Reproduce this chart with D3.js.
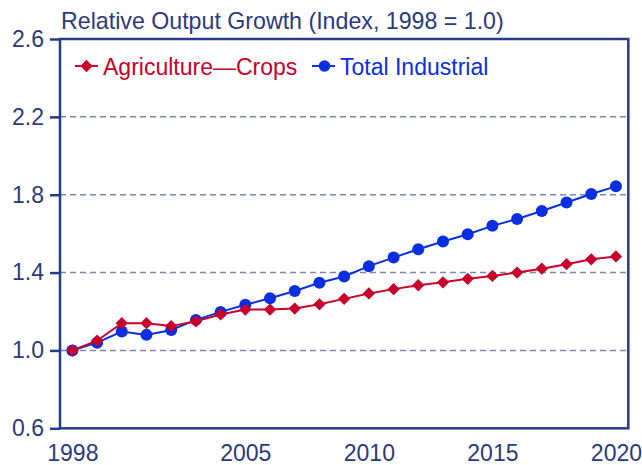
<!DOCTYPE html>
<html>
<head>
<meta charset="utf-8">
<script src="https://cdn.jsdelivr.net/npm/d3@7"></script>
<style>
  html, body { margin: 0; padding: 0; background: #ffffff; }
  svg { display: block; font-family: "Liberation Sans", Arial, sans-serif; }
</style>
</head>
<body>
<svg id="chart" width="642" height="465"></svg>
<script>
const years = d3.range(1998, 2021);
const crops = [1.00, 1.05, 1.14, 1.14, 1.125, 1.15, 1.185, 1.21, 1.21, 1.215, 1.237, 1.265, 1.293, 1.315, 1.335, 1.35, 1.368, 1.383, 1.40, 1.42, 1.443, 1.468, 1.483];
const industrial = [1.00, 1.04, 1.097, 1.08, 1.105, 1.157, 1.198, 1.235, 1.268, 1.305, 1.348, 1.38, 1.433, 1.477, 1.52, 1.56, 1.597, 1.64, 1.675, 1.716, 1.76, 1.804, 1.843];
const yTicks = [0.6, 1.0, 1.4, 1.8, 2.2, 2.6];
const xTicks = [1998, 2005, 2010, 2015, 2020];
const seriesNames = ["Agriculture\u2014Crops", "Total Industrial"];
const title = "Relative Output Growth (Index, 1998 = 1.0)";

const navy = "#243b8a";
const textNavy = "#2a3a80";
const red = "#c8002c";
const blue = "#0a2fe0";
const gridCol = "#7d88ad";

const mLeft = 60, mRight = 628.3, mTop = 39, mBottom = 428.3;
const svg = d3.select("#chart");

const x = d3.scaleLinear().domain([1997.5, 2020.5]).range([mLeft, mRight]);
const y = d3.scaleLinear().domain([0.6, 2.6]).range([mBottom, mTop]);

// gridlines
svg.append("g").selectAll("line")
  .data(yTicks.filter(v => v > 0.6 && v < 2.6))
  .join("line")
  .attr("x1", mLeft).attr("x2", mRight)
  .attr("y1", d => y(d)).attr("y2", d => y(d))
  .attr("stroke", gridCol).attr("stroke-width", 1.5)
  .attr("stroke-dasharray", "6,4");

// y axis
const yAxis = svg.append("g").attr("transform", `translate(${mLeft},0)`)
  .call(d3.axisLeft(y).tickValues(yTicks).tickFormat(d3.format(".1f")).tickSize(10).tickSizeOuter(0).tickPadding(6));
yAxis.select(".domain").remove();
yAxis.selectAll(".tick line").attr("stroke", navy).attr("stroke-width", 2.5);
yAxis.selectAll(".tick text").attr("fill", textNavy).style("font-size", "23px")
  .style("font-family", "'Liberation Sans', Arial, sans-serif");

// x axis
const xAxis = svg.append("g").attr("transform", `translate(0,${mBottom})`)
  .call(d3.axisBottom(x).tickValues(xTicks).tickFormat(d3.format("d")).tickSize(0).tickPadding(16.5));
xAxis.select(".domain").remove();
xAxis.selectAll(".tick text").attr("fill", textNavy).style("font-size", "23px")
  .style("font-family", "'Liberation Sans', Arial, sans-serif");

// frame
svg.append("rect")
  .attr("x", mLeft).attr("y", mTop)
  .attr("width", mRight - mLeft).attr("height", mBottom - mTop)
  .attr("fill", "none").attr("stroke", navy).attr("stroke-width", 2.5);

// title
svg.append("text").attr("x", 61).attr("y", 28.5)
  .attr("fill", textNavy).style("font-size", "23.2px").text(title);

const line = d3.line().x((d, i) => x(years[i])).y(d => y(d));
const diamond = d3.symbol().type(d3.symbolSquare).size(76);

// industrial series
svg.append("path").datum(industrial)
  .attr("d", line).attr("fill", "none").attr("stroke", blue).attr("stroke-width", 2);
svg.append("g").selectAll("circle").data(industrial).join("circle")
  .attr("cx", (d, i) => x(years[i])).attr("cy", d => y(d)).attr("r", 6)
  .attr("fill", blue);

// crops series
svg.append("path").datum(crops)
  .attr("d", line).attr("fill", "none").attr("stroke", red).attr("stroke-width", 2);
svg.append("g").selectAll("path").data(crops).join("path")
  .attr("d", diamond)
  .attr("transform", (d, i) => `translate(${x(years[i])},${y(d)}) rotate(45)`)
  .attr("fill", red);

// legend
const legY = 66;
const leg = [
  { name: seriesNames[0], color: red, x0: 75, shape: "diamond" },
  { name: seriesNames[1], color: blue, x0: 312, shape: "circle" }
];
leg.forEach(l => {
  const g = svg.append("g");
  g.append("line").attr("x1", l.x0).attr("x2", l.x0 + 23)
    .attr("y1", legY).attr("y2", legY).attr("stroke", l.color).attr("stroke-width", 2);
  if (l.shape === "diamond") {
    g.append("path").attr("d", diamond)
      .attr("transform", `translate(${l.x0 + 11.5},${legY}) rotate(45)`).attr("fill", l.color);
  } else {
    g.append("circle").attr("cx", l.x0 + 12.5).attr("cy", legY).attr("r", 5.8).attr("fill", l.color);
  }
  g.append("text").attr("x", l.x0 + 28).attr("y", legY + 8.5)
    .attr("fill", l.color).style("font-size", "23px").text(l.name);
});
</script>
</body>
</html>
